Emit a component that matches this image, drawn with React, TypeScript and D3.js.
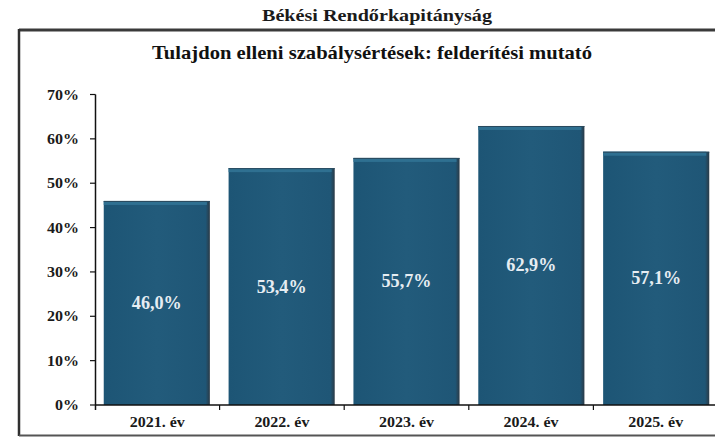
import React from "react";
import * as d3 from "d3";

const categories = ["2021. év", "2022. év", "2023. év", "2024. év", "2025. év"];
const values = [46.0, 53.4, 55.7, 62.9, 57.1];
const valueLabels = ["46,0%", "53,4%", "55,7%", "62,9%", "57,1%"];
const yTicks = [0, 10, 20, 30, 40, 50, 60, 70];
const topTitle = "Békési Rendőrkapitányság";
const chartTitle = "Tulajdon elleni szabálysértések: felderítési mutató";

const W = 715;
const H = 438;
const FONT = "Liberation Serif, Times New Roman, serif";

export default function App() {
  const x = d3
    .scaleBand<string>()
    .domain(categories)
    .range([95, 718])
    .paddingInner(0.15)
    .paddingOuter(0.07);
  const y = d3.scaleLinear().domain([0, 70]).range([405, 94.5]);
  const bandStart = 95;
  const bandW = 623 / categories.length;
  const boundaries = d3.range(1, categories.length + 1).map((i) => bandStart + i * bandW);

  return (
    <svg
      width={W}
      height={H}
      style={{ position: "absolute", left: 0, top: 0, background: "#fff", fontFamily: FONT }}
    >
      <defs>
        <linearGradient id="barGrad" x1="0" y1="0" x2="1" y2="0">
          <stop offset="0" stopColor="#1d5575" />
          <stop offset="0.5" stopColor="#225b7b" />
          <stop offset="0.96" stopColor="#1f5676" />
          <stop offset="1" stopColor="#2b3a46" />
        </linearGradient>
      </defs>
      <rect x={0} y={0} width={W} height={H} fill="#fff" />
      <line x1={19} y1={30} x2={W} y2={30} stroke="#3a3a3a" strokeWidth={3} />
      <line x1={19} y1={29} x2={19} y2={436} stroke="#2f2f2f" strokeWidth={2.5} />
      <line x1={19} y1={435.5} x2={W} y2={435.5} stroke="#555" strokeWidth={2} />

      <text x={377} y={21} textAnchor="middle" fontWeight="bold" fontSize={17} fill="#1a1a1a"
        textLength={230} lengthAdjust="spacingAndGlyphs">
        {topTitle}
      </text>
      <text x={372} y={59} textAnchor="middle" fontWeight="bold" fontSize={19} fill="#111"
        textLength={440} lengthAdjust="spacingAndGlyphs">
        {chartTitle}
      </text>

      {categories.map((c, i) => {
        const bx = x(c)!;
        const bw = x.bandwidth();
        const top = y(values[i]);
        const h = y(0) - top;
        return (
          <g key={c}>
            <rect x={bx} y={top} width={bw} height={h} fill="url(#barGrad)" />
            <rect x={bx} y={top} width={bw - 3} height={4} fill="#2f7091" />
            <rect x={bx} y={top} width={bw} height={1} fill="#2a4a5e" />
            <text x={bx + bw / 2} y={(top + y(0)) / 2 + 6} textAnchor="middle" fontWeight="bold"
              fontSize={18} fill="#e6edf2" textLength={50} lengthAdjust="spacingAndGlyphs">
              {valueLabels[i]}
            </text>
          </g>
        );
      })}

      <line x1={95.5} y1={y(70)} x2={95.5} y2={y(0) + 5} stroke="#111" strokeWidth={1.5} />
      {yTicks.map((t) => (
        <g key={t}>
          <line x1={90} y1={y(t)} x2={95.5} y2={y(t)} stroke="#111" strokeWidth={1.2} />
          <text x={79} y={y(t) + 5} textAnchor="end" fontWeight="bold" fontSize={15} fill="#1a1a1a"
            textLength={t === 0 ? 24 : 32} lengthAdjust="spacingAndGlyphs">
            {t}%
          </text>
        </g>
      ))}

      <line x1={95} y1={y(0)} x2={718} y2={y(0)} stroke="#111" strokeWidth={1.5} />
      {boundaries.map((b, i) => (
        <line key={i} x1={b} y1={y(0)} x2={b} y2={y(0) + 5} stroke="#111" strokeWidth={1.2} />
      ))}
      {categories.map((c, i) => (
        <text key={c} x={bandStart + (i + 0.5) * bandW} y={427} textAnchor="middle" fontWeight="bold"
          fontSize={15} fill="#1a1a1a" textLength={55} lengthAdjust="spacingAndGlyphs">
          {c}
        </text>
      ))}
    </svg>
  );
}
